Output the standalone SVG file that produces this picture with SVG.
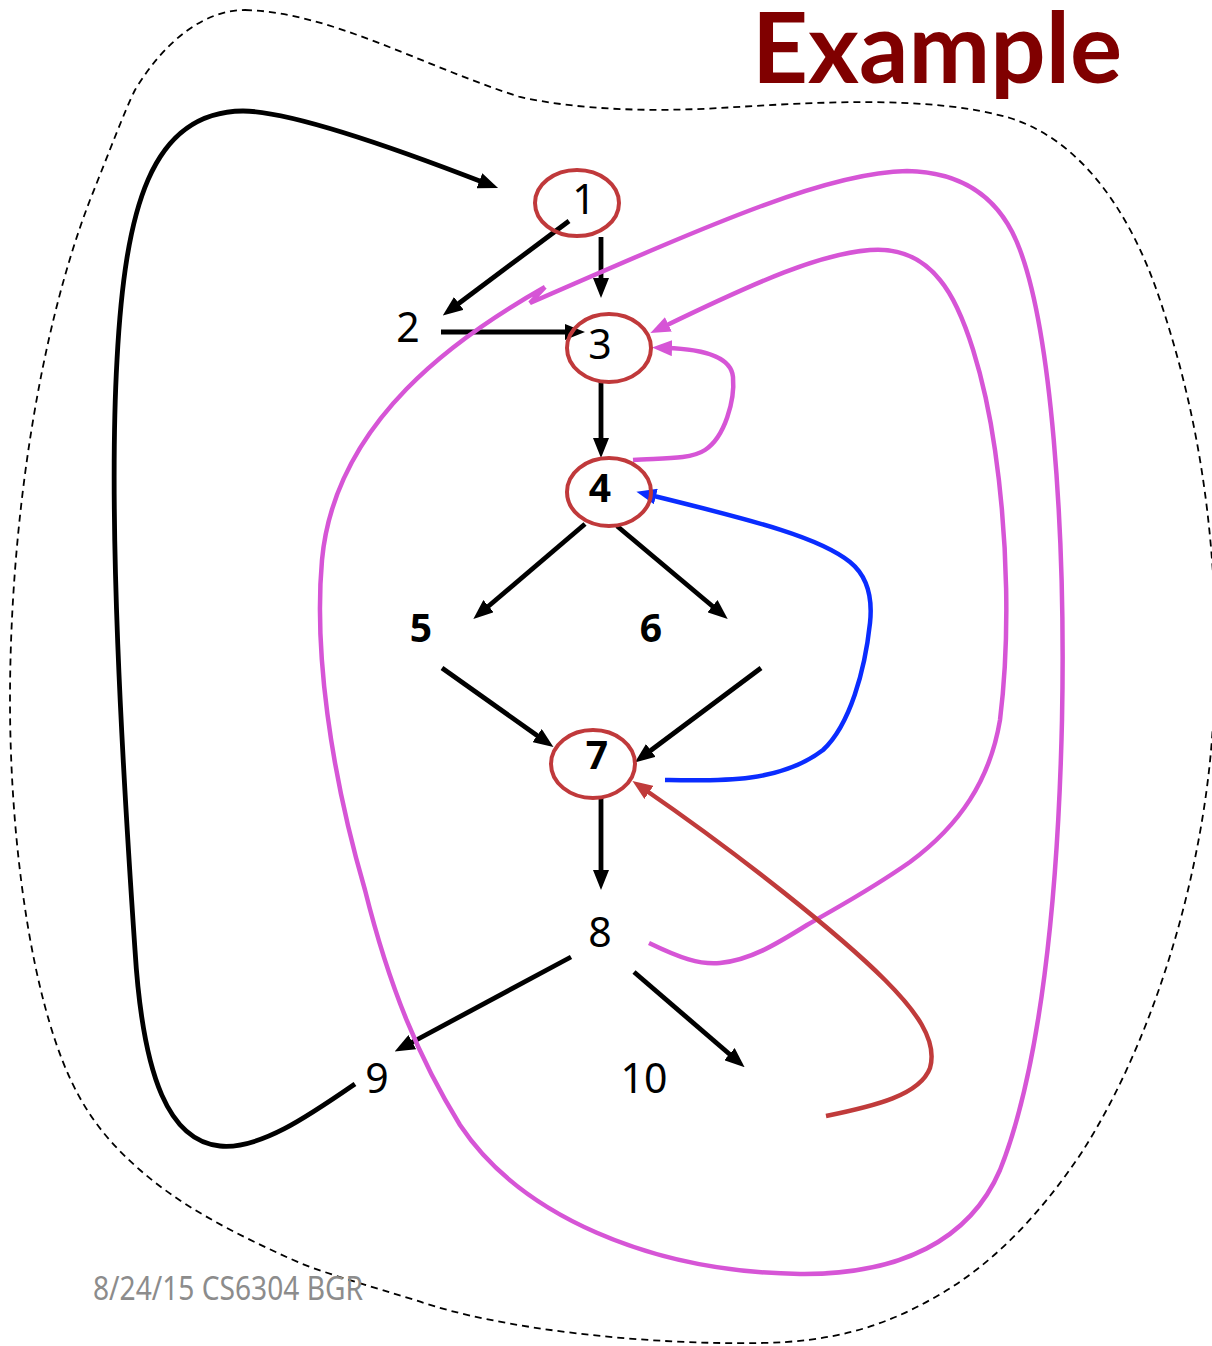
<svg xmlns="http://www.w3.org/2000/svg" width="1212" height="1346" viewBox="0 0 1212 1346">
<style>
.n{font-family:"Noto Sans","Liberation Sans",sans-serif;font-size:41px;fill:#000;text-anchor:middle}
.b{font-weight:bold;font-size:39px}
.ring{fill:none;stroke:#c0393b;stroke-width:4}
.k{fill:none;stroke:#000;stroke-width:4.8}
.p{fill:none;stroke:#d655d6;stroke-width:4.5}
.bl{fill:none;stroke:#0a2cff;stroke-width:4.5}
.r{fill:none;stroke:#c03b3b;stroke-width:4.5}
</style>
<defs>
<marker id="ak" viewBox="0 0 20 16" refX="6" refY="8" markerWidth="20" markerHeight="16" markerUnits="userSpaceOnUse" orient="auto"><path d="M0,0 L20,8 L0,16 z" fill="#000"/></marker>
<marker id="ap" viewBox="0 0 20 16" refX="6" refY="8" markerWidth="20" markerHeight="16" markerUnits="userSpaceOnUse" orient="auto"><path d="M0,0 L20,8 L0,16 z" fill="#d655d6"/></marker>
<marker id="abl" viewBox="0 0 20 16" refX="6" refY="8" markerWidth="20" markerHeight="16" markerUnits="userSpaceOnUse" orient="auto"><path d="M0,0 L20,8 L0,16 z" fill="#0a2cff"/></marker>
<marker id="ar" viewBox="0 0 20 16" refX="6" refY="8" markerWidth="20" markerHeight="16" markerUnits="userSpaceOnUse" orient="auto"><path d="M0,0 L20,8 L0,16 z" fill="#c03b3b"/></marker>
</defs>
<rect width="1212" height="1346" fill="#fff"/>
<path id="cloud" d="M245,10 C330,12 420,65 520,97 C580,110 650,112 720,108 C820,102 930,95 1010,118 C1080,140 1130,210 1160,300 C1190,390 1208,480 1214,590 L1214,700 C1210,850 1160,1030 1082,1152 C1040,1215 990,1268 930,1300 C880,1328 830,1342 760,1343 C650,1345 500,1330 415,1300 C370,1286 330,1275 300,1263 C230,1232 180,1205 140,1170 C100,1135 75,1100 55,1040 C25,950 10,820 10,700 C10,520 40,330 90,200 C110,150 125,110 135,90 C165,40 205,10 245,10 Z" fill="none" stroke="#000" stroke-width="1.8" stroke-dasharray="7,5"/>
<text id="title" x="752" y="83" font-family="Lato,'DejaVu Sans',sans-serif" font-weight="bold" font-size="98" fill="#800000" textLength="370" lengthAdjust="spacingAndGlyphs">Example</text>
<g id="connectors">
<path class="k" d="M569,221 L454,307" marker-end="url(#ak)"/>
<path class="k" d="M601,237 L601,284" marker-end="url(#ak)"/>
<path class="k" d="M441,332 L571,332" marker-end="url(#ak)"/>
<path class="k" d="M601,382 L601,444" marker-end="url(#ak)"/>
<path class="k" d="M585,524 L484,610" marker-end="url(#ak)"/>
<path class="k" d="M617,526 L717,610" marker-end="url(#ak)"/>
<path class="k" d="M442,668 L542,739" marker-end="url(#ak)"/>
<path class="k" d="M761,668 L646,754" marker-end="url(#ak)"/>
<path class="k" d="M601,798 L601,876" marker-end="url(#ak)"/>
<path class="k" d="M571,957 L407,1045" marker-end="url(#ak)"/>
<path class="k" d="M634,972 L734,1058" marker-end="url(#ak)"/>
<path class="k" d="M355,1084 C310,1115 260,1150 220,1146 C170,1141 143,1080 135,950 C122,760 108,520 117,360 C125,210 150,112 243,111 C290,111 400,150 485,183" marker-end="url(#ak)"/>
<path class="p" d="M545,287 C460,335 335,420 322,560 C314,650 330,770 365,890 C390,990 420,1060 460,1125 C520,1215 650,1272 800,1274 C900,1275 970,1240 1000,1170 C1040,1070 1058,900 1062,720 C1066,520 1050,330 1020,250 C1000,195 960,172 907,171 C830,172 720,220 530,303 L545,287"/>
<path class="p" d="M649,943 C680,958 700,965 720,963 C750,960 775,945 807,925 C850,900 870,890 910,862 C960,825 990,780 1000,720 C1010,640 1008,540 995,450 C985,380 965,310 940,280 C920,255 895,248 870,250 C820,254 760,280 663,327" marker-end="url(#ap)"/>
<path class="p" d="M633,460 C660,458 690,460 705,450 C725,437 735,400 733,377 C731,355 700,349 666,348" marker-end="url(#ap)"/>
<path class="bl" d="M665,780 C720,781 780,783 823,750 C850,725 865,670 870,623 C873,595 866,575 850,562 C820,538 760,522 650,495" marker-end="url(#abl)"/>
<path class="r" d="M826,1116 C875,1106 920,1095 930,1068 C938,1040 915,1010 885,980 C840,935 740,855 644,789" marker-end="url(#ar)"/>
</g>
<g id="node1"><ellipse class="ring" cx="577" cy="203" rx="42" ry="33"/><text class="n" x="584" y="214">1</text></g>
<g id="node2"><text class="n" x="408" y="342">2</text></g>
<g id="node3"><ellipse class="ring" cx="609" cy="348" rx="42" ry="34"/><text class="n" x="600" y="359">3</text></g>
<g id="node4"><ellipse class="ring" cx="609" cy="492" rx="42" ry="34"/><text class="n b" x="600" y="502">4</text></g>
<g id="node5"><text class="n b" x="421" y="642">5</text></g>
<g id="node6"><text class="n b" x="651" y="642">6</text></g>
<g id="node7"><ellipse class="ring" cx="593" cy="764" rx="42" ry="34"/><text class="n b" x="597" y="769">7</text></g>
<g id="node8"><text class="n" x="600" y="947">8</text></g>
<g id="node9"><text class="n" x="377" y="1093">9</text></g>
<g id="node10"><text class="n" x="644" y="1093">10</text></g>
<text id="footer" x="93" y="1300" font-family="'Noto Sans','Liberation Sans',sans-serif" font-size="32" fill="#8c8c8c" textLength="270" lengthAdjust="spacingAndGlyphs">8/24/15 CS6304 BGR</text>
</svg>
